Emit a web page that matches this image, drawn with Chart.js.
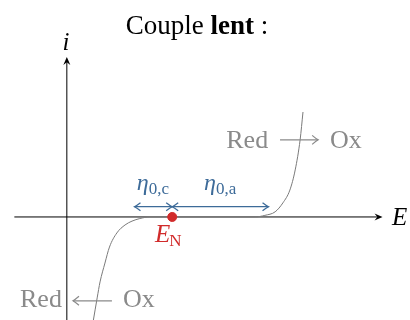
<!DOCTYPE html>
<html>
<head>
<meta charset="utf-8">
<script src="https://cdn.jsdelivr.net/npm/chart.js@4.4.0/dist/chart.umd.min.js"></script>
<style>
  body { margin: 0; background: #fff; }
  #wrap { width: 410px; height: 320px; }
</style>
</head>
<body>
<div id="wrap"><canvas id="c"></canvas></div>
<script>
// courbe i(E) d'un couple lent (E_N = 0, unités arbitraires)
const curveE = [-1.93, -1.83, -1.76, -1.64, -1.53, -1.35, -1.15, -0.98, -0.79, -0.55,
                2.02, 2.26, 2.51, 2.70, 2.87, 3.00, 3.12, 3.19];
const curveI = [-3.28, -2.53, -2.03, -1.44, -0.94, -0.50, -0.25, -0.13, -0.05, 0,
                0, 0.05, 0.16, 0.44, 0.84, 1.47, 2.41, 3.28];

const eN = 0;
const eta0c = -0.92;   // surtension à vide cathodique
const eta0a = 2.35;    // surtension à vide anodique
const etaLevel = 0.32; // hauteur des flèches

// axes
const axisE = [-3.85, 5.13];
const axisI = [-3.6, 5.0];
const axisE0 = -2.57;

const gray = '#8a8a8a';
const blue = '#3d6b99';
const red = '#d12b2b';
const serif = '"Liberation Serif", "DejaVu Serif", serif';

function pts(xs, ys) { return xs.map((x, k) => ({ x: x, y: ys[k] })); }

function tipTo(ctx, x, y, ang, len, half) {
  ctx.save();
  ctx.translate(x, y);
  ctx.rotate(ang);
  ctx.beginPath();
  ctx.moveTo(-len, -half);
  ctx.quadraticCurveTo(-len * 0.35, -half * 0.25, 0, 0);
  ctx.quadraticCurveTo(-len * 0.35, half * 0.25, -len, half);
  ctx.stroke();
  ctx.restore();
}

function tipStealth(ctx, x, y, ang, len, half) {
  ctx.save();
  ctx.translate(x, y);
  ctx.rotate(ang);
  ctx.beginPath();
  ctx.moveTo(0, 0);
  ctx.lineTo(-len, -half);
  ctx.lineTo(-len * 0.65, 0);
  ctx.lineTo(-len, half);
  ctx.closePath();
  ctx.fill();
  ctx.restore();
}

const decor = {
  id: 'decor',
  afterDatasetsDraw(chart) {
    const ctx = chart.ctx;
    const X = v => chart.scales.x.getPixelForValue(v);
    const Y = v => chart.scales.y.getPixelForValue(v);
    ctx.save();

    // pointes des axes
    ctx.fillStyle = '#000';
    tipStealth(ctx, X(axisE[1]), Y(0), 0, 8, 3.5);
    tipStealth(ctx, X(axisE0), Y(axisI[1]), -Math.PI / 2, 8, 3.5);

    // pointes des surtensions
    ctx.strokeStyle = blue;
    ctx.lineWidth = 1.3;
    tipTo(ctx, X(eta0c), Y(etaLevel), Math.PI, 6, 4);
    tipTo(ctx, X(eN), Y(etaLevel), 0, 6, 4);
    tipTo(ctx, X(eN), Y(etaLevel), Math.PI, 6, 4);
    tipTo(ctx, X(eta0a), Y(etaLevel), 0, 6, 4);

    // flèches Red -> Ox et Red <- Ox
    ctx.strokeStyle = gray;
    ctx.lineWidth = 1.2;
    ctx.beginPath();
    ctx.moveTo(X(2.63), Y(2.41)); ctx.lineTo(X(3.56), Y(2.41));
    ctx.moveTo(X(-2.42), Y(-2.62)); ctx.lineTo(X(-1.47), Y(-2.62));
    ctx.stroke();
    tipTo(ctx, X(3.56), Y(2.41), 0, 6, 4.5);
    tipTo(ctx, X(-2.42), Y(-2.62), Math.PI, 6, 4.5);

    // textes
    ctx.textBaseline = 'alphabetic';
    ctx.fillStyle = gray;
    ctx.font = '26px ' + serif;
    ctx.textAlign = 'right';
    ctx.fillText('Red', X(2.34), Y(2.155));
    ctx.fillText('Red', X(-2.69), Y(-2.81));
    ctx.textAlign = 'left';
    ctx.fillText('Ox', X(3.85), Y(2.155));
    ctx.fillText('Ox', X(-1.20), Y(-2.81));

    // axes : i et E
    ctx.fillStyle = '#000';
    ctx.font = 'italic 25px ' + serif;
    ctx.textAlign = 'center';
    ctx.fillText('i', X(-2.59), Y(5.22));
    ctx.textAlign = 'left';
    ctx.textBaseline = 'middle';
    ctx.fillText('E', X(5.36), Y(0) + 1);
    ctx.textBaseline = 'alphabetic';

    // E_N
    ctx.fillStyle = red;
    ctx.font = 'italic 25px ' + serif;
    ctx.fillText('E', X(-0.42), Y(-0.78));
    const wE = ctx.measureText('E').width;
    ctx.font = '17px ' + serif;
    ctx.fillText('N', X(-0.42) + wE - 1, Y(-0.78) + 4);

    // η0,c et η0,a
    ctx.fillStyle = blue;
    [[-0.47, 'c'], [1.17, 'a']].forEach(([e, s]) => {
      ctx.font = 'italic 24px ' + serif;
      const w1 = ctx.measureText('η').width;
      ctx.font = '17px ' + serif;
      const sub = '0,' + s;
      const w2 = ctx.measureText(sub).width;
      const x0 = X(e) - (w1 + w2) / 2;
      ctx.font = 'italic 24px ' + serif;
      ctx.fillText('η', x0, Y(0.84));
      ctx.font = '17px ' + serif;
      ctx.fillText(sub, x0 + w1, Y(0.84) + 4);
    });

    // titre
    ctx.fillStyle = '#000';
    ctx.font = '27px ' + serif;
    const t1 = 'Couple ';
    const t3 = ' :';
    const w1 = ctx.measureText(t1).width;
    const w3 = ctx.measureText(t3).width;
    ctx.font = 'bold 27px ' + serif;
    const w2 = ctx.measureText('lent').width;
    let x = 197 - (w1 + w2 + w3) / 2;
    ctx.textAlign = 'left';
    ctx.font = '27px ' + serif;
    ctx.fillText(t1, x, 34);
    ctx.font = 'bold 27px ' + serif;
    ctx.fillText('lent', x + w1, 34);
    ctx.font = '27px ' + serif;
    ctx.fillText(t3, x + w1 + w2, 34);

    ctx.restore();
  }
};

new Chart(document.getElementById('c'), {
  type: 'scatter',
  data: {
    datasets: [
      {
        data: [{ x: eN, y: 0 }],
        backgroundColor: red,
        borderColor: red,
        pointRadius: 4.5
      },
      {
        data: pts(curveE, curveI),
        showLine: true,
        borderColor: '#7a7a7a',
        borderWidth: 1,
        pointRadius: 0,
        cubicInterpolationMode: 'monotone'
      },
      {
        data: [{ x: eta0c, y: etaLevel }, { x: eN, y: etaLevel }],
        showLine: true,
        borderColor: blue,
        borderWidth: 1.3,
        pointRadius: 0
      },
      {
        data: [{ x: eN, y: etaLevel }, { x: eta0a, y: etaLevel }],
        showLine: true,
        borderColor: blue,
        borderWidth: 1.3,
        pointRadius: 0
      },
      {
        data: [{ x: axisE[0], y: 0 }, { x: axisE[1] - 0.1, y: 0 }],
        showLine: true,
        borderColor: '#000',
        borderWidth: 1,
        pointRadius: 0
      },
      {
        data: [{ x: axisE0, y: axisI[0] }, { x: axisE0, y: axisI[1] - 0.1 }],
        showLine: true,
        borderColor: '#000',
        borderWidth: 1,
        pointRadius: 0
      }
    ]
  },
  options: {
    responsive: true,
    maintainAspectRatio: false,
    animation: false,
    layout: { padding: 0, autoPadding: false },
    plugins: {
      legend: { display: false },
      tooltip: { enabled: false }
    },
    scales: {
      x: { type: 'linear', min: -4.2, max: 5.8, display: false },
      y: { type: 'linear', min: -3.22, max: 6.78, display: false }
    }
  },
  plugins: [decor]
});
</script>
</body>
</html>
